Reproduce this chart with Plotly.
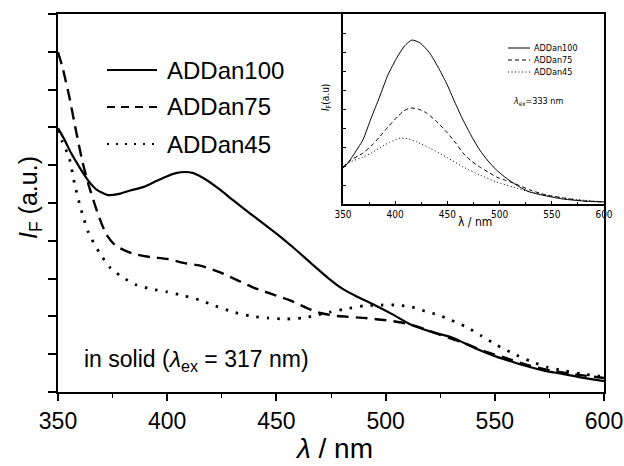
import plotly.graph_objects as go

# ---- main panel: solid-state emission spectra (lambda_ex = 317 nm) ----
wl_100 = [350, 353, 356, 360, 364, 368, 373, 378, 383, 389, 395, 400, 404, 408, 412,
          418, 424, 430, 438, 446, 452, 458, 466, 474, 480, 487, 494, 503, 512, 521,
          531, 541, 551, 558, 566, 573, 581, 590, 600]
if_100 = [6.98, 6.67, 6.32, 5.93, 5.58, 5.34, 5.21, 5.24, 5.33, 5.42, 5.58, 5.71, 5.79, 5.82, 5.79,
          5.61, 5.36, 5.08, 4.72, 4.37, 4.10, 3.81, 3.40, 3.00, 2.74, 2.52, 2.33, 2.06, 1.77, 1.59,
          1.43, 1.16, 0.93, 0.80, 0.66, 0.56, 0.48, 0.38, 0.29]

wl_75 = [350, 352, 355, 358, 361, 364, 368, 372, 376, 380, 385, 392, 400, 408, 416,
         424, 432, 440, 448, 456, 464, 470, 478, 490, 500, 508, 515, 525, 535, 545,
         555, 565, 575, 585, 600]
if_75 = [8.99, 8.60, 7.86, 6.98, 6.14, 5.48, 4.76, 4.18, 3.89, 3.76, 3.65, 3.57, 3.52, 3.41, 3.33,
         3.17, 2.96, 2.75, 2.59, 2.43, 2.22, 2.09, 2.01, 1.96, 1.90, 1.83, 1.72, 1.51, 1.32, 1.08,
         0.90, 0.71, 0.58, 0.48, 0.37]

wl_45 = [350, 352, 355, 358, 361, 364, 369, 374, 380, 386, 393, 400, 408, 415, 422,
         430, 438, 446, 454, 462, 469, 475, 482, 490, 498, 505, 512, 518, 524, 530,
         537, 544, 551, 558, 566, 574, 582, 590, 600]
if_45 = [6.93, 6.61, 6.22, 5.40, 4.74, 4.21, 3.68, 3.28, 3.02, 2.83, 2.72, 2.65, 2.54, 2.43, 2.28,
         2.12, 2.01, 1.96, 1.93, 1.96, 2.04, 2.12, 2.20, 2.28, 2.30, 2.30, 2.25, 2.14, 2.04, 1.90,
         1.72, 1.48, 1.24, 1.03, 0.82, 0.66, 0.56, 0.48, 0.40]

# ---- inset: solution spectra (lambda_ex = 333 nm) ----
wl_in_100 = [350, 353, 356, 360, 369, 377, 385, 393, 402, 409, 416, 424, 433, 441, 449,
             457, 465, 473, 481, 489, 497, 505, 513, 521, 529, 545, 561, 580, 600]
if_in_100 = [1.89, 2.05, 2.26, 2.58, 3.37, 4.53, 5.63, 6.79, 7.74, 8.32, 8.63, 8.47, 7.95, 7.21, 6.37,
             5.37, 4.42, 3.58, 2.84, 2.26, 1.79, 1.42, 1.11, 0.84, 0.63, 0.42, 0.26, 0.16, 0.11]

wl_in_75 = [350, 356, 369, 377, 385, 393, 402, 408, 414, 422, 430, 440, 450, 458, 465,
            473, 481, 489, 497, 505, 513, 529, 545, 561, 580, 600]
if_in_75 = [1.95, 2.26, 2.68, 3.05, 3.53, 4.05, 4.58, 4.89, 5.05, 5.00, 4.79, 4.32, 3.74, 3.21, 2.68,
            2.26, 1.95, 1.68, 1.42, 1.26, 1.11, 0.74, 0.47, 0.32, 0.16, 0.11]

wl_in_45 = [350, 357, 369, 377, 385, 395, 405, 413, 421, 433, 449, 465, 481, 497, 513,
            529, 545, 561, 580, 600]
if_in_45 = [1.95, 2.21, 2.47, 2.68, 2.95, 3.26, 3.47, 3.42, 3.26, 2.95, 2.47, 1.95, 1.53, 1.16, 0.89,
            0.63, 0.47, 0.32, 0.21, 0.11]

series_names = ["ADDan100", "ADDan75", "ADDan45"]
x_ticks = [350, 400, 450, 500, 550, 600]

W, H = 624, 466
FONT = "Liberation Sans, Arial, sans-serif"
NARROW = "Liberation Sans Narrow, DejaVu Sans Condensed, Liberation Sans, Arial, sans-serif"


def px(x):
    return x / W


def py(y):
    return 1 - y / H


main_styles = [dict(color="black", width=2.2),
               dict(color="black", width=2.4, dash="12px,7px"),
               dict(color="black", width=2.8, dash="2.5px,8px")]
key_styles = [dict(color="black", width=1.8),
              dict(color="black", width=1.8, dash="8px,6px"),
              dict(color="black", width=2, dash="2px,7px")]
inset_styles = [dict(color="black", width=1),
                dict(color="black", width=1, dash="4px,3px"),
                dict(color="black", width=1, dash="1px,2.5px")]

fig = go.Figure()
for name, xs, ys, st in zip(series_names, [wl_100, wl_75, wl_45], [if_100, if_75, if_45], main_styles):
    fig.add_trace(go.Scatter(x=xs, y=ys, mode="lines", name=name, line=dict(shape="spline", smoothing=0.6, **st),
                             xaxis="x", yaxis="y", showlegend=False))
for name, xs, ys, st in zip(series_names, [wl_in_100, wl_in_75, wl_in_45],
                            [if_in_100, if_in_75, if_in_45], inset_styles):
    fig.add_trace(go.Scatter(x=xs, y=ys, mode="lines", name=name, line=dict(shape="spline", smoothing=0.6, **st),
                             xaxis="x2", yaxis="y2", showlegend=False))

main_x = [58, 604]
main_y = [14, 392]
ins_x = [343, 604]
ins_y = [14, 204]

fig.update_layout(
    width=W, height=H,
    margin=dict(l=0, r=0, t=0, b=0, autoexpand=False),
    showlegend=False,
    paper_bgcolor="white", plot_bgcolor="white",
    font=dict(family=FONT, color="black"),
    xaxis=dict(domain=[px(main_x[0]), px(main_x[1])], range=[350, 600], tickvals=x_ticks, automargin=False,
               ticks="outside", ticklen=7, tickwidth=1.5, tickcolor="black",
               minor=dict(dtick=25, tick0=350, ticks="outside", ticklen=4, tickwidth=1.2, tickcolor="black"),
               showline=True, linecolor="black", linewidth=2, mirror=True,
               showgrid=False, zeroline=False, tickfont=dict(size=23, family=FONT)),
    yaxis=dict(domain=[py(main_y[1]), py(main_y[0])], range=[0, 10], dtick=1, tick0=0, automargin=False,
               ticks="outside", ticklen=8, tickwidth=1.5, tickcolor="black",
               showticklabels=False, showline=True, linecolor="black", linewidth=2, mirror=True,
               showgrid=False, zeroline=False),
    xaxis2=dict(domain=[px(ins_x[0]), px(ins_x[1])], range=[350, 600], tickvals=x_ticks, anchor="y2",
                automargin=False,
                ticks="inside", ticklen=3, tickwidth=1, tickcolor="black",
                minor=dict(dtick=25, tick0=350, ticks="inside", ticklen=2, tickwidth=1, tickcolor="black"),
                showline=True, linecolor="black", linewidth=1.5, mirror=True,
                showgrid=False, zeroline=False, tickfont=dict(size=10, family=NARROW)),
    yaxis2=dict(domain=[py(ins_y[1]), py(ins_y[0])], range=[0, 10], dtick=1, anchor="x2", automargin=False,
                ticks="inside", ticklen=3, tickwidth=1, tickcolor="black",
                showticklabels=False, showline=True, linecolor="black", linewidth=1.5, mirror=True,
                showgrid=False, zeroline=False),
)

# white backing for the inset panel
fig.add_shape(type="rect", xref="paper", yref="paper", layer="below",
              x0=px(ins_x[0]), x1=px(ins_x[1]), y0=py(ins_y[1]), y1=py(ins_y[0]),
              fillcolor="white", line=dict(width=0))

annotations = []

# main key
for i, (name, st) in enumerate(zip(series_names, key_styles)):
    yy = [70, 107, 144][i]
    fig.add_shape(type="line", xref="paper", yref="paper", x0=px(107), x1=px(157), y0=py(yy), y1=py(yy),
                  line=st)
    annotations.append(dict(text=name, x=px(165), y=py(yy), xref="paper", yref="paper",
                            xanchor="left", yanchor="middle", showarrow=False,
                            font=dict(size=24, family=FONT)))

# inset key
for i, (name, st) in enumerate(zip(series_names, inset_styles)):
    yy = [48, 60, 72][i]
    fig.add_shape(type="line", xref="paper", yref="paper", x0=px(508), x1=px(530), y0=py(yy), y1=py(yy),
                  line=st)
    annotations.append(dict(text=name, x=px(532), y=py(yy), xref="paper", yref="paper",
                            xanchor="left", yanchor="middle", showarrow=False,
                            font=dict(size=9, family=NARROW)))

annotations += [
    dict(text="<i>λ</i> / nm", x=px(334), y=py(448), xref="paper", yref="paper",
         xanchor="center", yanchor="middle", showarrow=False, font=dict(size=28, family=FONT)),
    dict(text="<i>I</i><sub>F</sub> (a.u.)", x=px(30), y=py(198), xref="paper", yref="paper",
         xanchor="center", yanchor="middle", textangle=-90, showarrow=False, font=dict(size=25, family=FONT)),
    dict(text="in solid (<i>λ</i><sub>ex</sub> = 317 nm)", x=px(82), y=py(360), xref="paper", yref="paper",
         xanchor="left", yanchor="middle", showarrow=False, font=dict(size=23, family=FONT)),
    dict(text="<i>λ</i><sub>ex</sub>=333 nm", x=px(511), y=py(102), xref="paper", yref="paper",
         xanchor="left", yanchor="middle", showarrow=False, font=dict(size=9, family=NARROW)),
    dict(text="<i>I</i><sub>F</sub>(a.u)", x=px(326), y=py(98), xref="paper", yref="paper",
         xanchor="center", yanchor="middle", textangle=-90, showarrow=False, font=dict(size=10, family=NARROW)),
    dict(text="λ / nm", x=px(475), y=py(222), xref="paper", yref="paper",
         xanchor="center", yanchor="middle", showarrow=False, font=dict(size=12, family=NARROW)),
]
fig.update_layout(annotations=annotations)

fig.write_html("out.html")
